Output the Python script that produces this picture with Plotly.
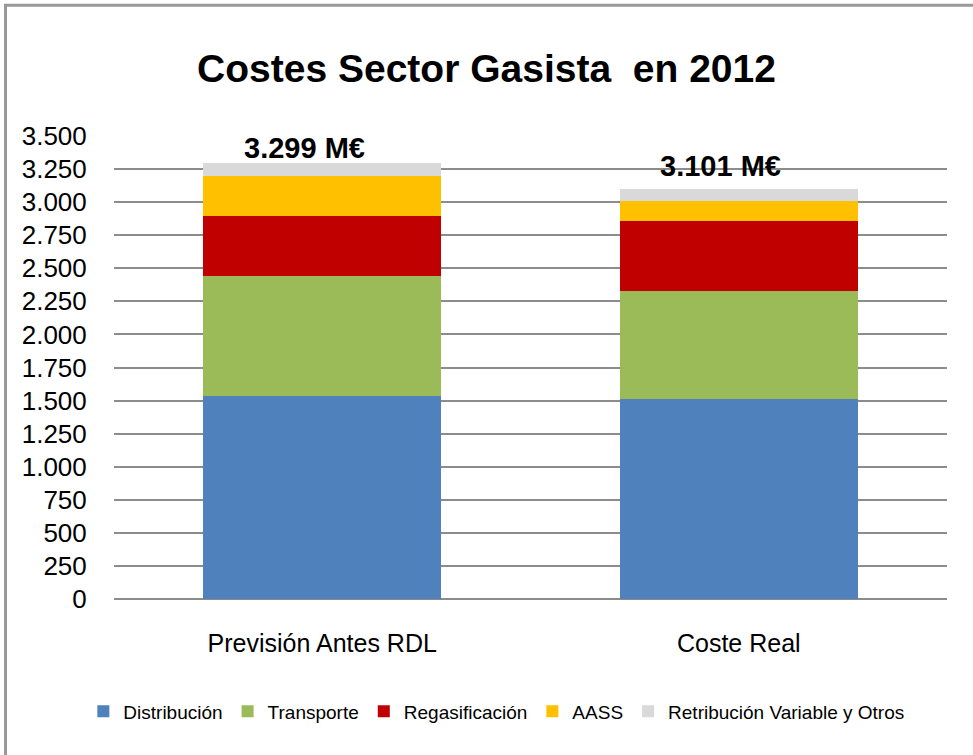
import plotly.graph_objects as go

categories = ["Previsión Antes RDL", "Coste Real"]
series_names = ["Distribución", "Transporte", "Regasificación", "AASS", "Retribución Variable y Otros"]
distribucion = [1534, 1513]
transporte = [910, 815]
regasificacion = [449, 527]
aass = [301, 152]
otros = [105, 94]
totals = [3299, 3101]
total_labels = ["3.299 M€", "3.101 M€"]
y_ticks = list(range(0, 3501, 250))

colors = ["#4F81BD", "#9BBB59", "#C00000", "#FFC000", "#D9D9D9"]
series_values = [distribucion, transporte, regasificacion, aass, otros]

FONT = "Liberation Sans, Arial, sans-serif"

fig = go.Figure()
for name, vals, col in zip(series_names, series_values, colors):
    fig.add_trace(go.Bar(x=categories, y=vals, name=name, marker=dict(color=col, line=dict(width=0)),
                         hoverinfo="x+y+name"))

for cat, tot, lab, ys in zip(categories, totals, total_labels, [10, 18]):
    fig.add_annotation(x=cat, y=tot, text="<b>" + lab + "</b>", showarrow=False, xref="x", yref="y",
                       yanchor="bottom", yshift=ys - 13, xshift=-18,
                       font=dict(family=FONT, size=29, color="#000000"))

fig.update_layout(
    width=973, height=755,
    margin=dict(l=114, r=26, t=136, b=156),
    paper_bgcolor="white", plot_bgcolor="white",
    barmode="stack", bargap=0.428,
    separators=",.",
    title=dict(text="<b>Costes Sector Gasista  en 2012</b>", x=0.5, xref="container", xanchor="center",
               y=1 - 68 / 755, yref="container", yanchor="middle",
               font=dict(family=FONT, size=39, color="#000000")),
    font=dict(family=FONT, color="#000000"),
    legend=dict(orientation="h", x=0.459, xanchor="center",
                y=-0.243, yanchor="middle",
                font=dict(family=FONT, size=19, color="#000000"), itemwidth=30,
                traceorder="normal", bgcolor="rgba(0,0,0,0)"),
    showlegend=True,
)
fig.update_yaxes(range=[0, 3500], tickvals=y_ticks, tickformat=",d", showgrid=True, automargin=False,
                 gridcolor="#8C8C8C", gridwidth=2, zeroline=True, zerolinecolor="#8C8C8C", zerolinewidth=2,
                 tickfont=dict(family=FONT, size=26, color="#000000"), ticks="outside", ticklen=21,
                 tickcolor="rgba(0,0,0,0)", showline=False, fixedrange=True)
fig.update_xaxes(tickfont=dict(family=FONT, size=25, color="#000000"), ticks="outside", ticklen=22,
                 tickcolor="rgba(0,0,0,0)", showline=False, showgrid=False, fixedrange=True, automargin=False)

# chart frame
fig.add_shape(type="rect", xref="paper", yref="paper",
              x0=(5.5 - 114) / 833, x1=1.2, y0=-0.5, y1=(598.5 - 5.5) / 462.5,
              line=dict(color="#999999", width=3), fillcolor="rgba(0,0,0,0)", layer="below")

fig.write_html("out.html", config={"displayModeBar": False},
               post_script="document.body.style.margin='0px';")
